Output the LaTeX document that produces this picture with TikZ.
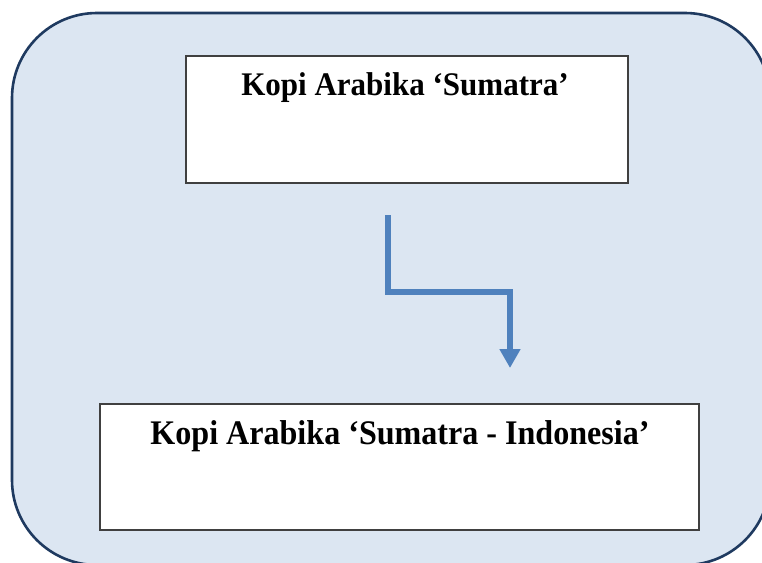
\documentclass[tikz,border=0pt]{standalone}
\usepackage{fontspec}
\usepackage{graphicx}
\setmainfont{Liberation Serif}
\usetikzlibrary{arrows.meta}
\definecolor{panelfill}{HTML}{DCE6F2}
\definecolor{panelline}{HTML}{1F3A60}
\definecolor{boxline}{HTML}{404040}
\definecolor{arrowblue}{HTML}{4F81BD}
\tikzset{
  panel/.style={draw=panelline, line width=2.6pt, fill=panelfill, rounded corners=85pt},
  whitebox/.style={draw=boxline, line width=1.3pt, fill=white, inner sep=0pt},
  label/.style={inner sep=0pt, anchor=base},
  bentarrow/.style={draw=arrowblue, line width=6.5pt, line join=miter,
    -{Triangle[length=19pt, width=20pt]}}
}
\begin{document}
\begin{tikzpicture}[x=1pt,y=-1pt]
\useasboundingbox (0,0) rectangle (762,562);
\clip (0,0) rectangle (762,562);
\path[panel] (12,13) rectangle (770,565);
\node[whitebox, minimum width=442pt, minimum height=127pt] (box1) at (407,119.5) {};
\node[whitebox, minimum width=599pt, minimum height=126pt] (box2) at (399.5,467) {};
\node[label] (t1) at (405,95) {\scalebox{0.94}[1]{\bfseries\fontsize{33}{39}\selectfont Kopi Arabika ‘Sumatra’}};
\node[label] (t2) at (400,444) {\scalebox{0.93}[1]{\bfseries\fontsize{34.5}{40}\selectfont Kopi Arabika ‘Sumatra - Indonesia’}};
\coordinate (a1) at (388,215);
\coordinate (a2) at (510,368);
\draw[bentarrow] (a1) |- (a2 |- 0,292) -- (a2);
\end{tikzpicture}
\end{document}
